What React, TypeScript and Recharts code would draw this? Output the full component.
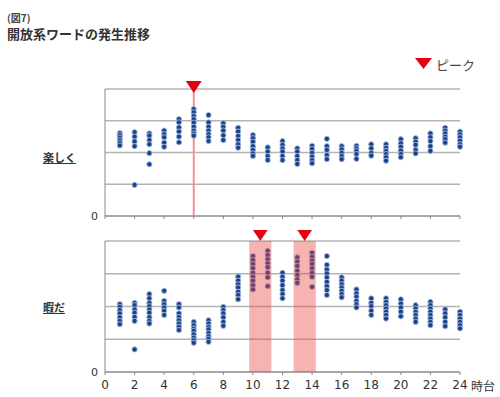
import { CartesianGrid, ReferenceArea, ReferenceDot, ReferenceLine, Scatter, ScatterChart, XAxis, YAxis } from "recharts";

// hour of day (x) for each dot column
const hours = [1, 2, 3, 4, 5, 6, 7, 8, 9, 10, 11, 12, 13, 14, 15, 16, 17, 18, 19, 20, 21, 22, 23, 24];

// 楽しく: one column of dots per hour
const tanoshiku: number[][] = [
  [2.61, 2.54, 2.46, 2.38, 2.3, 2.22],
  [2.64, 2.5, 2.35, 2.2, 0.98],
  [2.6, 2.53, 2.39, 2.26, 1.98, 1.63],
  [2.69, 2.58, 2.48, 2.31, 2.18],
  [3.05, 2.95, 2.79, 2.66, 2.5, 2.32],
  [3.37, 3.27, 3.15, 3.05, 2.94, 2.81, 2.69, 2.6, 2.53],
  [3.18, 2.95, 2.81, 2.69, 2.58, 2.48, 2.36],
  [2.92, 2.81, 2.69, 2.54, 2.39],
  [2.78, 2.66, 2.52, 2.39, 2.26, 2.15],
  [2.55, 2.45, 2.34, 2.2, 2.08, 1.97, 1.89],
  [2.16, 2.03, 1.89, 1.76],
  [2.36, 2.24, 2.13, 2.03, 1.89, 1.76],
  [2.13, 2.03, 1.89, 1.76, 1.64],
  [2.21, 2.11, 1.99, 1.87, 1.76, 1.66],
  [2.43, 2.2, 2.08, 1.92, 1.79],
  [2.2, 2.1, 1.99, 1.89, 1.79],
  [2.21, 2.13, 2.05, 1.95, 1.8],
  [2.26, 2.13, 1.99, 1.9],
  [2.26, 2.15, 2.05, 1.95, 1.85, 1.74],
  [2.42, 2.29, 2.18, 2.06, 1.95, 1.85],
  [2.45, 2.34, 2.24, 2.08, 1.97],
  [2.6, 2.48, 2.36, 2.2, 2.05],
  [2.78, 2.69, 2.6, 2.5, 2.42, 2.31],
  [2.66, 2.57, 2.48, 2.37, 2.26, 2.18],
];

// 暇だ
const himada: number[][] = [
  [2.07, 1.99, 1.89, 1.79, 1.67, 1.56, 1.46],
  [2.11, 2.04, 1.91, 1.81, 1.68, 1.56, 0.69],
  [2.38, 2.25, 2.11, 2.01, 1.91, 1.81, 1.67, 1.56, 1.48],
  [2.48, 2.17, 2.07, 1.97, 1.87, 1.74],
  [2.07, 1.97, 1.79, 1.68, 1.58, 1.48, 1.38, 1.28],
  [1.53, 1.43, 1.33, 1.26, 1.15, 1.05, 0.97, 0.89],
  [1.58, 1.48, 1.38, 1.3, 1.19, 1.09, 1.01, 0.92],
  [1.99, 1.89, 1.79, 1.67, 1.53, 1.41],
  [2.91, 2.79, 2.68, 2.58, 2.45, 2.35, 2.22],
  [3.54, 3.42, 3.3, 3.17, 3.03, 2.91, 2.79, 2.65, 2.52],
  [3.7, 3.57, 3.44, 3.32, 3.2, 3.03, 2.89, 2.62],
  [3.03, 2.91, 2.79, 2.65, 2.5, 2.38, 2.25],
  [3.5, 3.37, 3.24, 3.09, 2.96, 2.83, 2.72],
  [3.64, 3.52, 3.4, 3.3, 3.17, 3.03, 2.91, 2.6],
  [3.54, 3.27, 3.13, 3.01, 2.89, 2.75, 2.62, 2.5, 2.35],
  [2.89, 2.79, 2.68, 2.58, 2.48, 2.38, 2.28],
  [2.52, 2.4, 2.3, 2.17, 2.07, 1.97],
  [2.25, 2.11, 2.01, 1.87, 1.74],
  [2.25, 2.14, 2.04, 1.94, 1.84, 1.74, 1.63],
  [2.22, 2.09, 1.97, 1.84, 1.7],
  [2.04, 1.94, 1.84, 1.74, 1.63, 1.53],
  [2.14, 2.04, 1.94, 1.84, 1.74, 1.63, 1.53, 1.43],
  [1.91, 1.79, 1.67, 1.53, 1.4],
  [1.84, 1.74, 1.63, 1.53, 1.43, 1.33],
];

const tanoshikuPeaks = [6];
const himadaPeaks = [10.5, 13.5];

const xTicks = [0, 2, 4, 6, 8, 10, 12, 14, 16, 18, 20, 22, 24];
const yTicks = [0, 1, 2, 3, 4];

const NAVY = "#1d3f84";
const RED = "#e60012";
const JP = '"Noto Sans CJK JP", "Noto Sans", sans-serif';
const NUM = '"DejaVu Sans", Verdana, sans-serif';

const toPoints = (cols: number[][]) =>
  hours.flatMap((h, i) => cols[i].map((v) => ({ x: h, y: v })));

const Dot = (props: any) => {
  const { cx, cy } = props;
  return <circle cx={cx} cy={cy} r={2.6} fill={NAVY} stroke="#9fbde6" strokeWidth={0.9} />;
};

// red peak triangle, tip sits dy px below the point
const triangle = (dy: number) => (props: any) => {
  const { cx, cy } = props;
  const tip = cy + dy;
  return <path d={`M${cx - 8},${tip - 12} L${cx + 8},${tip - 12} L${cx},${tip} Z`} fill={RED} />;
};

const labelStyle = {
  position: "absolute" as const,
  left: 43,
  fontSize: 11,
  fontWeight: 700,
  color: "#333",
  textDecoration: "underline",
};

const App = () => {
  return (
    <div style={{ position: "absolute", left: 0, top: 0, width: 500, height: 397, background: "#fff", fontFamily: JP }}>
      {/* TITLE */}
      <div style={{ position: "absolute", left: 7, top: 10, fontSize: 10, fontWeight: 700, color: "#444" }}>(図7)</div>
      <div style={{ position: "absolute", left: 7, top: 24, fontSize: 13, fontWeight: 700, color: "#333" }}>開放系ワードの発生推移</div>

      {/* LEGEND */}
      <svg style={{ position: "absolute", left: 414, top: 57 }} width={20} height={14}>
        <path d="M1,1 L18,1 L9.5,12 Z" fill={RED} />
      </svg>
      <div style={{ position: "absolute", left: 436, top: 55, fontSize: 13, color: "#444" }}>ピーク</div>

      {/* TOP PANEL */}
      <div style={{ position: "absolute", left: 0, top: 0 }}>
        <ScatterChart width={500} height={230} margin={{ top: 89, right: 40, bottom: 0, left: 85 }}>
          <CartesianGrid vertical={false} stroke="#b4b4b4" strokeWidth={1.3} />
          <XAxis type="number" dataKey="x" domain={[0, 24]} ticks={xTicks} height={14} tickSize={3}
            stroke="#888" tickFormatter={() => ""} />
          <YAxis type="number" dataKey="y" domain={[0, 4]} ticks={yTicks} width={20} tickLine={false}
            tickSize={5} tickMargin={2} stroke="#888" tickFormatter={(v: number) => (v === 0 ? "0" : "")}
            tick={{ fontSize: 11, fill: "#333", fontFamily: NUM }} />
          {tanoshikuPeaks.map((p) => (
            <ReferenceLine key={`l-${p}`} x={p} stroke="#f39191" strokeWidth={2} />
          ))}
          <Scatter data={toPoints(tanoshiku)} shape={Dot} isAnimationActive={false} />
          {tanoshikuPeaks.map((p) => (
            <ReferenceDot key={`d-${p}`} x={p} y={4} shape={triangle(4)} zIndex={800} />
          ))}
        </ScatterChart>
      </div>

      {/* BOTTOM PANEL */}
      <div style={{ position: "absolute", left: 0, top: 230 }}>
        <ScatterChart width={500} height={167} margin={{ top: 11, right: 40, bottom: 0, left: 85 }}>
          <CartesianGrid vertical={false} stroke="#b4b4b4" strokeWidth={1.3} />
          <XAxis type="number" dataKey="x" domain={[0, 24]} ticks={xTicks} height={25} tickSize={3}
            tickMargin={5} stroke="#888" tick={{ fontSize: 12, fill: "#333", fontFamily: NUM }} />
          <YAxis type="number" dataKey="y" domain={[0, 4]} ticks={yTicks} width={20} tickLine={false}
            tickSize={5} tickMargin={2} stroke="#888" tickFormatter={(v: number) => (v === 0 ? "0" : "")}
            tick={{ fontSize: 11, fill: "#333", fontFamily: NUM }} />
          <Scatter data={toPoints(himada)} shape={Dot} isAnimationActive={false} />
          {himadaPeaks.map((p) => (
            <ReferenceArea key={`a-${p}`} x1={p - 0.75} x2={p + 0.75} y1={0} y2={4} fill="#e8403f"
              fillOpacity={0.4} stroke="none" zIndex={700} />
          ))}
          {himadaPeaks.map((p) => (
            <ReferenceDot key={`d-${p}`} x={p} y={4} shape={triangle(0)} zIndex={800} />
          ))}
        </ScatterChart>
      </div>

      {/* LABELS */}
      <div style={{ ...labelStyle, top: 149 }}>楽しく</div>
      <div style={{ ...labelStyle, top: 299 }}>暇だ</div>
      <div style={{ position: "absolute", left: 471, top: 377, fontSize: 12, color: "#333" }}>時台</div>
    </div>
  );
};

export default App;
